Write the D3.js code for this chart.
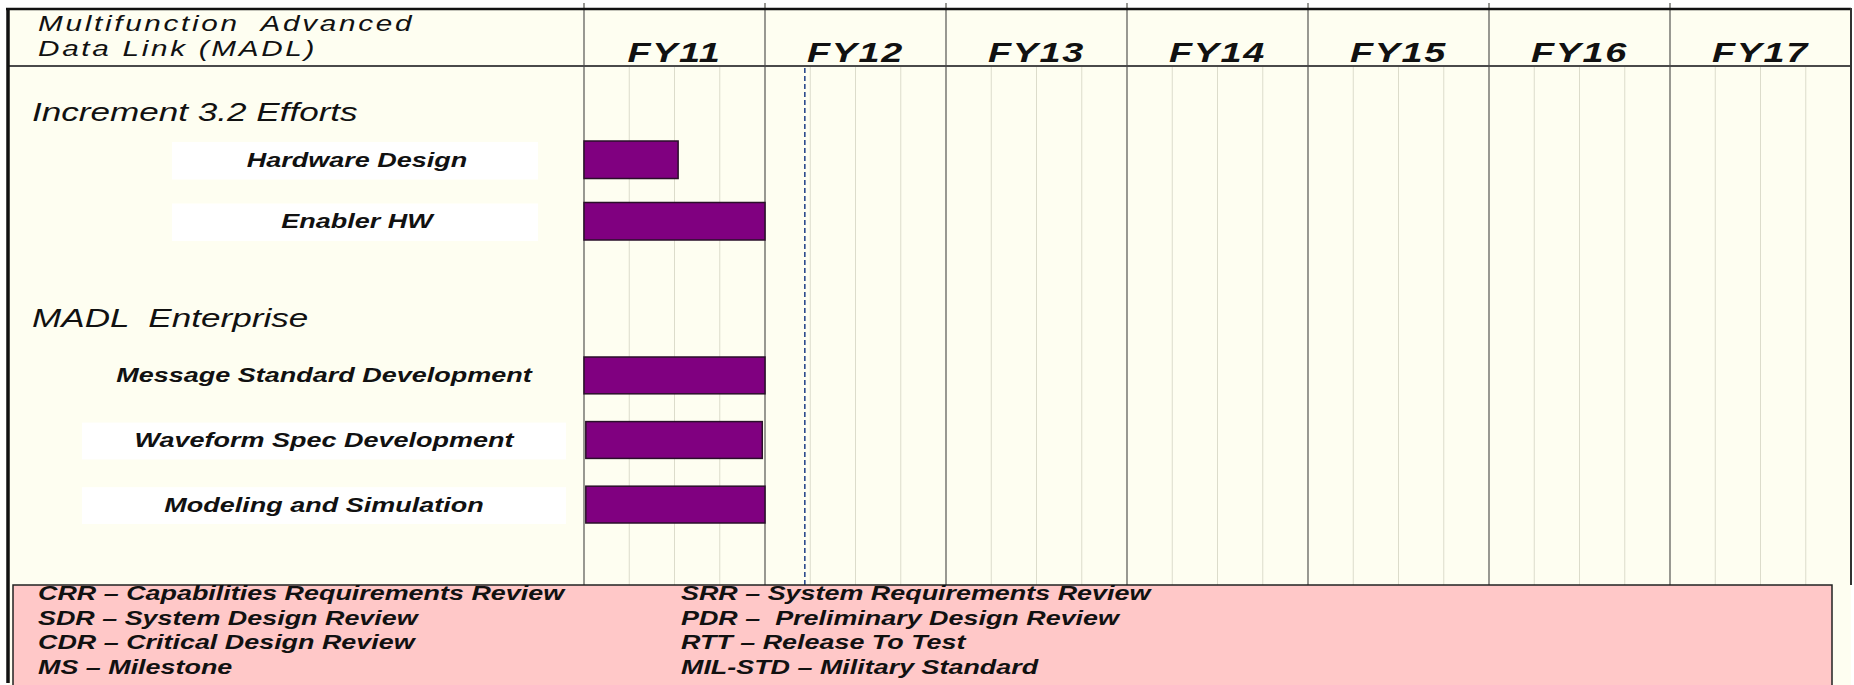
<!DOCTYPE html>
<html>
<head>
<meta charset="utf-8">
<script src="https://cdn.jsdelivr.net/npm/d3@7"></script>
<style>
  body { margin: 0; background: #ffffff; }
  text { font-family: "Liberation Sans", Arial, sans-serif; font-style: italic; white-space: pre; fill: #111; }
</style>
</head>
<body>
<div class="graph"></div>
<script>
// chart values
var years = ["FY11", "FY12", "FY13", "FY14", "FY15", "FY16", "FY17"];
var firstYear = 11;
var titleLines = ["Multifunction  Advanced", "Data Link (MADL)"];
var sections = ["Increment 3.2 Efforts", "MADL  Enterprise"];
var tasks = ["Hardware Design", "Enabler HW", "Message Standard Development", "Waveform Spec Development", "Modeling and Simulation"];
var taskSection = [0, 0, 1, 1, 1];
var taskStart = [11.0, 11.0, 11.0, 11.01, 11.01];
var taskEnd = [11.52, 12.0, 12.0, 11.985, 12.0];
var statusDate = 12.22;
var legendLeft = ["CRR \u2013 Capabilities Requirements Review", "SDR \u2013 System Design Review", "CDR \u2013 Critical Design Review", "MS \u2013 Milestone"];
var legendRight = ["SRR \u2013 System Requirements Review", "PDR \u2013  Preliminary Design Review", "RTT \u2013 Release To Test", "MIL-STD \u2013 Military Standard"];

window.onload = () => {
  var width = 1854, height = 685;
  var left = 584, right = 1851, top = 9, headY = 66, bottom = 585;
  var sx = 1.35; // the picture is stretched sideways

  var svg = d3.select(".graph").append("svg")
    .attr("width", width)
    .attr("height", height);

  var x = d3.scaleLinear().domain([firstYear, firstYear + years.length]).range([left, right]);

  // row layout for each section
  var sectionLayout = [
    { head: 121, range: [141, 240], pad: 0.39, cx: 357, box: [172, 538] },
    { head: 327, range: [357, 523], pad: 0.43, cx: 324, box: [82, 566] }
  ];
  var boxed = { "Hardware Design": 1, "Enabler HW": 1, "Waveform Spec Development": 1, "Modeling and Simulation": 1 };
  var yScales = sectionLayout.map(function (s, i) {
    return d3.scaleBand()
      .domain(tasks.filter(function (t, j) { return taskSection[j] === i; }))
      .range(s.range)
      .paddingInner(s.pad)
      .paddingOuter(0);
  });

  function stretched(parent, px, py, str, size, weight, anchor, spacing, scale) {
    var g = parent.append("g").attr("transform", "translate(" + px + "," + py + ") scale(" + (scale || sx) + ",1)");
    return g.append("text")
      .attr("text-anchor", anchor)
      .style("font-size", size + "px")
      .style("font-weight", weight)
      .style("letter-spacing", (spacing || 0) + "px")
      .text(str);
  }

  // background
  svg.append("rect")
    .attr("x", 8).attr("y", top).attr("width", right - 8).attr("height", height - top)
    .attr("fill", "#fefef1");

  // label boxes
  tasks.forEach(function (t, i) {
    if (!boxed[t]) return;
    var s = sectionLayout[taskSection[i]], y = yScales[taskSection[i]];
    svg.append("rect")
      .attr("x", s.box[0]).attr("y", y(t) + 1)
      .attr("width", s.box[1] - s.box[0]).attr("height", y.bandwidth())
      .attr("fill", "#ffffff");
  });

  // quarter gridlines
  var quarters = d3.range(firstYear * 4, (firstYear + years.length) * 4)
    .filter(function (q) { return q % 4 !== 0; })
    .map(function (q) { return q / 4; });
  svg.append("g").selectAll("line")
    .data(quarters)
    .enter().append("line")
    .attr("x1", function (d) { return x(d); })
    .attr("x2", function (d) { return x(d); })
    .attr("y1", headY).attr("y2", bottom)
    .attr("stroke", "#dcdccb")
    .attr("stroke-width", 1);

  // year lines
  svg.append("g").selectAll("line")
    .data(d3.range(firstYear, firstYear + years.length))
    .enter().append("line")
    .attr("x1", function (d) { return x(d); })
    .attr("x2", function (d) { return x(d); })
    .attr("y1", 3).attr("y2", bottom)
    .attr("stroke", "#7f7f7a")
    .attr("stroke-width", 1.6);

  // header line and frame
  svg.append("line")
    .attr("x1", 8).attr("x2", right).attr("y1", headY).attr("y2", headY)
    .attr("stroke", "#4a4a4a").attr("stroke-width", 2);
  svg.append("line")
    .attr("x1", 6).attr("x2", right).attr("y1", top).attr("y2", top)
    .attr("stroke", "#111").attr("stroke-width", 2.5);
  svg.append("line")
    .attr("x1", 8).attr("x2", 8).attr("y1", top - 1).attr("y2", 683)
    .attr("stroke", "#111").attr("stroke-width", 3.5);
  svg.append("line")
    .attr("x1", right).attr("x2", right).attr("y1", top - 1).attr("y2", bottom)
    .attr("stroke", "#333").attr("stroke-width", 2);

  // status date
  svg.append("line")
    .attr("x1", x(statusDate)).attr("x2", x(statusDate))
    .attr("y1", headY + 2).attr("y2", bottom)
    .attr("stroke", "#2b4a8c")
    .attr("stroke-width", 1.6)
    .attr("stroke-dasharray", "5,3");

  // title
  titleLines.forEach(function (t, i) {
    stretched(svg, 38, 31 + i * 25, t, 22, "normal", "start", 2);
  });

  // year labels
  years.forEach(function (yr, i) {
    stretched(svg, x(firstYear + i + 0.5), 62, yr, 28, "bold", "middle", 1.2);
  });

  // section headings
  sections.forEach(function (s, i) {
    stretched(svg, 32, sectionLayout[i].head, s, 26, "normal", "start", 0);
  });

  // bars
  tasks.forEach(function (t, i) {
    var y = yScales[taskSection[i]];
    svg.append("rect")
      .attr("x", x(taskStart[i]))
      .attr("y", y(t))
      .attr("width", x(taskEnd[i]) - x(taskStart[i]))
      .attr("height", y.bandwidth())
      .attr("fill", "#800080")
      .attr("stroke", "#2a0f2a")
      .attr("stroke-width", 1.5);
    stretched(svg, sectionLayout[taskSection[i]].cx, y(t) + y.bandwidth() / 2 + 7, t, 20, "bold", "middle", 0);
  });

  // legend box
  var legend = svg.append("g");
  legend.append("rect")
    .attr("x", 13).attr("y", bottom)
    .attr("width", 1832 - 13).attr("height", height - bottom + 2)
    .attr("fill", "#ffc8c8")
    .attr("stroke", "#222")
    .attr("stroke-width", 1.5);
  var rowY = d3.scaleLinear().domain([0, 1]).range([600, 624.5]);
  legendLeft.forEach(function (t, i) {
    stretched(legend, 38, rowY(i), t, 19.5, "bold", "start", 0, 1.38);
  });
  legendRight.forEach(function (t, i) {
    stretched(legend, 681, rowY(i), t, 19.5, "bold", "start", 0, 1.38);
  });
};
</script>
</body>
</html>
